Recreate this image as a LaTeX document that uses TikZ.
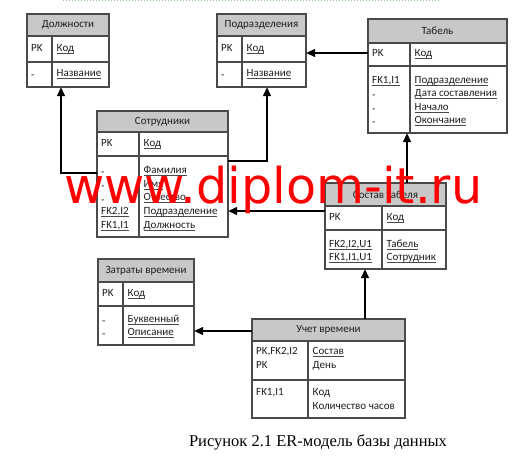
\documentclass[tikz,border=0pt]{standalone}
\usepackage{fontspec}
\usepackage{graphicx}
\setmainfont{Carlito}
\newfontfamily\capfont{Liberation Serif}
\newfontfamily\wmfont{DejaVu Sans}
\usetikzlibrary{arrows.meta,fit,calc}
\definecolor{framegray}{HTML}{4A4A4A}
\definecolor{hdrgray}{HTML}{C8C8C8}
\definecolor{txtcol}{HTML}{1E1E1E}
\definecolor{wmred}{HTML}{FF0000}
\definecolor{dotgreen}{HTML}{8FC98F}
\tikzset{
  frame/.style={draw=framegray, line width=1.1pt},
  conn/.style={draw=black, line width=1.4pt, -{Triangle[length=9pt,width=8pt]}},
  txt/.style={anchor=mid west, inner sep=0pt, font=\fontsize{11}{13}\selectfont, text=txtcol},
  ttl/.style={inner sep=0pt, font=\fontsize{11}{13}\selectfont, text=txtcol},
  topdots/.style={draw=dotgreen, dotted, line width=1pt},
}
\newcommand\uln[1]{\setbox0\hbox{#1}\rlap{\color{framegray}\rule[-1.8pt]{\wd0}{0.5pt}}\box0}
\newcommand\dsh{\raisebox{-2.5pt}{-}}
% name, x1, y1, x2, yheader, yrow, y2, xdiv, title
\newcommand\erent[9]{%
  \fill[hdrgray] (#2,#3) rectangle (#4,#5);
  \node[inner sep=0pt, fit={(#2,#3)(#4,#7)}] (#1) {};
  \draw[frame] (#2,#3) rectangle (#4,#7) (#2,#5) -- (#4,#5) (#2,#6) -- (#4,#6) (#8,#5) -- (#8,#7);
  \node[ttl] (#1-title) at ({(#2+#4)/2},{(#3+#5)/2}) {#9};
}
\begin{document}
\begin{tikzpicture}[x=1pt,y=-1pt]
\fill[white] (0,0) rectangle (530,460);
\useasboundingbox (0,0) rectangle (530,460);
\draw[topdots] (63,1) -- (440,1);

% Должности
\erent{dolzh}{27}{14}{109}{36}{62}{87}{52}{Должности}
\node[txt] (dolzh-pk) at (31,49) {PK};
\node[txt] (dolzh-kod) at (56.5,49) {\uln{Код}};
\node[txt] (dolzh-d1) at (31,74) {\dsh};
\node[txt] (dolzh-naz) at (56.5,74) {\uln{Название}};

% Подразделения
\erent{podr}{217}{14}{306}{36}{62}{87}{242}{Подразделения}
\node[txt] (podr-pk) at (221,49) {PK};
\node[txt] (podr-kod) at (246.5,49) {\uln{Код}};
\node[txt] (podr-d1) at (221,74) {\dsh};
\node[txt] (podr-naz) at (246.5,74) {\uln{Название}};

% Табель
\erent{tabel}{368}{19}{507}{43}{66}{133}{410}{Табель}
\node[txt] (tabel-pk) at (372,54) {PK};
\node[txt] (tabel-kod) at (414.5,54) {\uln{Код}};
\node[txt] (tabel-fk) at (372,81) {\uln{FK1,I1}};
\node[txt] (tabel-d1) at (372,94) {\dsh};
\node[txt] (tabel-d2) at (372,108) {\dsh};
\node[txt] (tabel-d3) at (372,121) {\dsh};
\node[txt] (tabel-a1) at (414.5,81) {\uln{Подразделение}};
\node[txt] (tabel-a2) at (414.5,94) {\uln{Дата составления}};
\node[txt] (tabel-a3) at (414.5,108) {\uln{Начало}};
\node[txt] (tabel-a4) at (414.5,121) {\uln{Окончание}};

% Сотрудники
\erent{sotr}{97}{111}{228}{132}{156}{237}{139}{Сотрудники}
\node[txt] (sotr-pk) at (101,144) {PK};
\node[txt] (sotr-kod) at (143.5,144) {\uln{Код}};
\node[txt] (sotr-d1) at (101,171) {\dsh};
\node[txt] (sotr-d2) at (101,185) {\dsh};
\node[txt] (sotr-d3) at (101,198.5) {\dsh};
\node[txt] (sotr-fk2) at (101,212) {\uln{FK2,I2}};
\node[txt] (sotr-fk1) at (101,226) {\uln{FK1,I1}};
\node[txt] (sotr-a1) at (143.5,171) {\uln{Фамилия}};
\node[txt] (sotr-a2) at (143.5,185) {\uln{Имя}};
\node[txt] (sotr-a3) at (143.5,198.5) {\uln{Отчество}};
\node[txt] (sotr-a4) at (143.5,212) {\uln{Подразделение}};
\node[txt] (sotr-a5) at (143.5,226) {\uln{Должность}};

% Состав табеля
\erent{sost}{325}{183}{446}{206}{230}{269}{382}{Состав табеля}
\node[txt] (sost-pk) at (329,218) {PK};
\node[txt] (sost-kod) at (386.5,218) {\uln{Код}};
\node[txt] (sost-fk2) at (329,245) {\uln{FK2,I2,U1}};
\node[txt] (sost-fk1) at (329,258) {\uln{FK1,I1,U1}};
\node[txt] (sost-a1) at (386.5,245) {\uln{Табель}};
\node[txt] (sost-a2) at (386.5,258) {\uln{Сотрудник}};

% Затраты времени
\erent{zatr}{98}{259}{194}{282}{306}{345}{123}{Затраты времени}
\node[txt] (zatr-pk) at (102,294) {PK};
\node[txt] (zatr-kod) at (127.5,294) {\uln{Код}};
\node[txt] (zatr-d1) at (102,320) {\dsh};
\node[txt] (zatr-d2) at (102,333) {\dsh};
\node[txt] (zatr-a1) at (127.5,320) {\uln{Буквенный}};
\node[txt] (zatr-a2) at (127.5,333) {\uln{Описание}};

% Учет времени
\erent{uchet}{252}{319}{405}{341}{380}{418}{308}{Учет времени}
\node[txt] (uchet-k1) at (256,352) {PK,FK2,I2};
\node[txt] (uchet-k2) at (256,366) {PK};
\node[txt] (uchet-a1) at (312.5,352) {\uln{Состав}};
\node[txt] (uchet-a2) at (312.5,366) {День};
\node[txt] (uchet-k3) at (256,393) {FK1,I1};
\node[txt] (uchet-a3) at (312.5,393) {Код};
\node[txt] (uchet-a4) at (312.5,407) {Количество часов};

% connectors
\coordinate (b1) at (61,173);
\draw[conn] (sotr.west |- b1) -| (dolzh.south -| b1);
\coordinate (b2) at (267,161);
\draw[conn] (sotr.east |- b2) -| (podr.south -| b2);
\coordinate (b3) at (0,53);
\draw[conn] (tabel.west |- b3) -- (podr.east |- b3);
\coordinate (b4) at (0,211);
\draw[conn] (sost.west |- b4) -- (sotr.east |- b4);
\coordinate (b5) at (407,0);
\draw[conn] (sost.north -| b5) -- (tabel.south -| b5);
\coordinate (b6) at (0,331);
\draw[conn] (uchet.west |- b6) -- (zatr.east |- b6);
\coordinate (b7) at (365,0);
\draw[conn] (uchet.north -| b7) -- (sost.south -| b7);

% watermark
\node[anchor=base west, inner sep=0pt, text=wmred] (wm) at (64,203) {\resizebox{418pt}{!}{\wmfont\fontsize{48}{48}\selectfont www.diplom-it.ru}};

% caption
\node[anchor=base, inner sep=0pt, font=\capfont\fontsize{16.5}{18}\selectfont] (cap) at (318,446) {Рисунок 2.1 ER-модель базы данных};
\end{tikzpicture}
\end{document}
